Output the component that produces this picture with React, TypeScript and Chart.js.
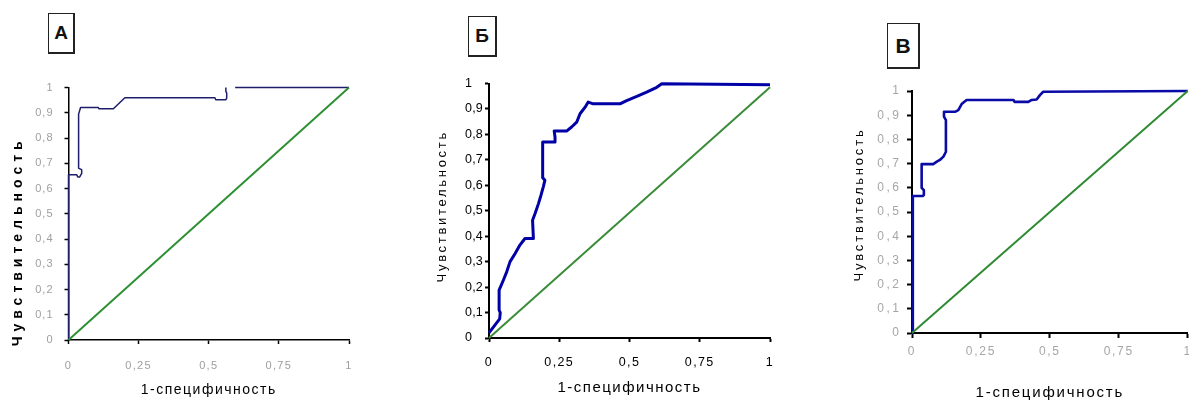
import React, { useEffect, useRef } from 'react';
import { Chart, registerables } from 'chart.js';

Chart.register(...registerables);

// ---------- data ----------
const xTickValues = [0, 0.25, 0.5, 0.75, 1];
const xTickLabels = ['0', '0,25', '0,5', '0,75', '1'];
const yTickValues = [0, 0.1, 0.2, 0.3, 0.4, 0.5, 0.6, 0.7, 0.8, 0.9, 1];
const yTickLabels = ['0', '0,1', '0,2', '0,3', '0,4', '0,5', '0,6', '0,7', '0,8', '0,9', '1'];

const xTitle = '1-специфичность';
const yTitle = 'Чувствительность';
const panelLabels = ['А', 'Б', 'В'];

// reference (chance) line
const diagFpr = [0, 1];
const diagTprA = [0, 1];
const diagTprB = [0, 0.985];
const diagTprC = [0, 1];

// ROC curve A
const rocA_fpr = [0, 0, 0.029, 0.033, 0.04, 0.047, 0.047, 0.037, 0.036, 0.043, 0.106, 0.109, 0.16, 0.201, 0.522, 0.525, 0.561, 0.564, 0.564, 0.561, 0.561, 0.58, 0.594, 1];
const rocA_tpr = [0, 0.655, 0.655, 0.646, 0.646, 0.66, 0.675, 0.68, 0.895, 0.921, 0.921, 0.916, 0.916, 0.96, 0.96, 0.952, 0.952, 0.958, 0.979, 0.985, 1.0, null, 1, 1];

// ROC curve Б
const rocB_fpr = [0, 0.038, 0.04, 0.036, 0.036, 0.051, 0.063, 0.075, 0.093, 0.11, 0.128, 0.158, 0.155, 0.164, 0.176, 0.185, 0.193, 0.199, 0.191, 0.191, 0.235, 0.235, 0.232, 0.276, 0.294, 0.312, 0.324, 0.342, 0.353, 0.371, 0.466, 0.49, 0.526, 0.561, 0.597, 0.615, 1];
const rocB_tpr = [0.02, 0.075, 0.1, 0.11, 0.188, 0.227, 0.26, 0.3, 0.332, 0.365, 0.391, 0.391, 0.463, 0.489, 0.528, 0.561, 0.593, 0.62, 0.63, 0.77, 0.77, 0.79, 0.813, 0.813, 0.829, 0.848, 0.881, 0.907, 0.927, 0.92, 0.92, 0.933, 0.949, 0.966, 0.985, 0.999, 0.995];

// ROC curve В
const rocC_fpr = [0, 0.003, 0.003, 0.039, 0.043, 0.043, 0.035, 0.035, 0.077, 0.09, 0.101, 0.114, 0.123, 0.123, 0.116, 0.116, 0.156, 0.168, 0.18, 0.198, 0.368, 0.372, 0.422, 0.434, 0.452, 0.464, 0.476, 1];
const rocC_tpr = [0, 0.01, 0.566, 0.566, 0.57, 0.59, 0.6, 0.698, 0.698, 0.708, 0.715, 0.729, 0.749, 0.88, 0.894, 0.914, 0.914, 0.921, 0.946, 0.963, 0.963, 0.955, 0.955, 0.963, 0.965, 0.983, 0.997, 1];

// ---------- layout / style ----------
const FAMILY = '"Liberation Sans", Arial, sans-serif';

type PanelCfg = {
  label: string;
  curveX: number[];
  curveY: (number | null)[];
  diagY: number[];
  canvas: { left: number; top: number; w: number; h: number };
  area: { left: number; top: number; right: number; bottom: number };
  padLeft: number;
  curveColor: string;
  curveWidth: number;
  diagColor: string;
  diagWidth: number;
  axisWidth: number;
  tickLen: number;
  tickSize: number;
  tickColor: string;
  xTickPad: number;
  yTickPad: number;
  yCross: 'near' | 'far';
  xTickLS: number;
  yTickLS: number;
  xTitleSize: number;
  xTitlePad: number;
  xTitleLS: number;
  yTitleFont: string;
  yTitleLS: number;
  yTitleDx: number;
  yTitleDy: number;
  box: { left: number; top: number; w: number; h: number; size: number };
};

const panels: PanelCfg[] = [
  {
    label: panelLabels[0], curveX: rocA_fpr, curveY: rocA_tpr, diagY: diagTprA,
    canvas: { left: 0, top: 70, w: 380, h: 333 },
    area: { left: 68.5, top: 13, right: 349, bottom: 270 },
    padLeft: 0,
    curveColor: '#1e1e6a', curveWidth: 1.5, diagColor: '#2f8f33', diagWidth: 2,
    axisWidth: 1.5, tickLen: 4, tickSize: 11, tickColor: '#9e9e9e',
    xTickPad: 15.4, yTickPad: 11, yCross: 'near', xTickLS: 1.3, yTickLS: 1,
    xTitleSize: 14, xTitlePad: 4.6, xTitleLS: 1.5,
    yTitleFont: 'bold 14px ' + FAMILY, yTitleLS: 5, yTitleDx: 50, yTitleDy: 27.5,
    box: { left: 48, top: 13, w: 27, h: 41, size: 19 },
  },
  {
    label: panelLabels[1], curveX: rocB_fpr, curveY: rocB_tpr, diagY: diagTprB,
    canvas: { left: 400, top: 70, w: 400, h: 333 },
    area: { left: 89, top: 13, right: 370, bottom: 268 },
    padLeft: 65,
    curveColor: '#0000a6', curveWidth: 3, diagColor: '#3a8c3a', diagWidth: 2,
    axisWidth: 2, tickLen: 4, tickSize: 12.5, tickColor: '#000000',
    xTickPad: 13.5, yTickPad: 6, yCross: 'far', xTickLS: 1.4, yTickLS: 0.2,
    xTitleSize: 15, xTitlePad: 6, xTitleLS: 1.5,
    yTitleFont: '13px ' + FAMILY, yTitleLS: 2.7, yTitleDx: 47, yTitleDy: -4.5,
    box: { left: 468, top: 16, w: 29, h: 41, size: 19 },
  },
  {
    label: panelLabels[2], curveX: rocC_fpr, curveY: rocC_tpr, diagY: diagTprC,
    canvas: { left: 800, top: 70, w: 420, h: 333 },
    area: { left: 112, top: 21, right: 387.7, bottom: 263 },
    padLeft: 0,
    curveColor: '#0a0aa6', curveWidth: 2.6, diagColor: '#2f8a33', diagWidth: 2,
    axisWidth: 2, tickLen: 5, tickSize: 12, tickColor: '#a6a6a6',
    xTickPad: 6.8, yTickPad: 5.5, yCross: 'near', xTickLS: 1.7, yTickLS: 2.5,
    xTitleSize: 15, xTitlePad: 1, xTitleLS: 1.8,
    yTitleFont: '13px ' + FAMILY, yTitleLS: 2.8, yTitleDx: 53, yTitleDy: -7.5,
    box: { left: 887, top: 23, w: 33, h: 46, size: 21 },
  },
];

function decoPlugin(p: PanelCfg) {
  return {
    id: 'deco',
    beforeDraw(chart: any) {
      const ctx = chart.ctx;
      ['x', 'y'].forEach((id) => {
        const s: any = chart.scales[id];
        if (!s || s.__ls) return;
        s.__ls = true;
        const tickLS = id === 'x' ? p.xTickLS : p.yTickLS;
        const origLabels = s.drawLabels;
        const origTitle = s.drawTitle;
        s.drawLabels = function (ca: any) {
          ctx.save();
          ctx.letterSpacing = tickLS + 'px';
          origLabels.call(this, ca);
          ctx.restore();
        };
        s.drawTitle = function () {
          ctx.save();
          ctx.letterSpacing = p.xTitleLS + 'px';
          origTitle.call(this);
          ctx.restore();
        };
      });
    },
    afterDraw(chart: any) {
      const ctx = chart.ctx;
      const ca = chart.chartArea;
      ctx.save();
      ctx.translate(ca.left - p.yTitleDx, (ca.top + ca.bottom) / 2 + p.yTitleDy);
      ctx.rotate(-Math.PI / 2);
      ctx.font = p.yTitleFont;
      ctx.letterSpacing = p.yTitleLS + 'px';
      ctx.fillStyle = '#000';
      ctx.textAlign = 'center';
      ctx.textBaseline = 'middle';
      ctx.fillText(yTitle, 0, 0);
      ctx.restore();
    },
  };
}

function RocPanel({ p }: { p: PanelCfg }) {
  const ref = useRef<HTMLCanvasElement | null>(null);
  useEffect(() => {
    if (!ref.current) return;
    const tickFont = { family: FAMILY, size: p.tickSize };
    const chart = new Chart(ref.current, {
      type: 'scatter',
      data: {
        datasets: [
          {
            data: diagFpr.map((x, i) => ({ x, y: p.diagY[i] })),
            borderColor: p.diagColor,
            borderWidth: p.diagWidth,
            showLine: true,
            pointRadius: 0,
            clip: false,
          } as any,
          {
            data: p.curveX.map((x, i) => ({ x, y: p.curveY[i] })),
            borderColor: p.curveColor,
            borderWidth: p.curveWidth,
            borderJoinStyle: 'round',
            showLine: true,
            spanGaps: false,
            pointRadius: 0,
            clip: false,
          } as any,
        ],
      },
      options: {
        responsive: false,
        animation: false,
        layout: { padding: { left: p.padLeft, top: p.area.top, right: p.canvas.w - p.area.right, bottom: 0 } },
        plugins: { legend: { display: false }, tooltip: { enabled: false } },
        scales: {
          x: {
            type: 'linear',
            position: 'bottom',
            min: 0,
            max: 1,
            afterBuildTicks: (s: any) => { s.ticks = xTickValues.map((v) => ({ value: v })); },
            afterFit: (s: any) => { s.height = p.canvas.h - p.area.bottom; },
            ticks: {
              callback: (_v: any, i: number) => xTickLabels[i],
              font: tickFont,
              color: p.tickColor,
              padding: p.xTickPad,
              maxRotation: 0,
              autoSkip: false,
            },
            grid: { drawOnChartArea: false, drawTicks: true, tickLength: p.tickLen, color: '#000', tickColor: '#000', tickWidth: p.axisWidth },
            border: { display: true, color: '#000', width: p.axisWidth },
            title: { display: true, text: xTitle, color: '#000', font: { family: FAMILY, size: p.xTitleSize }, padding: { top: 0, bottom: p.xTitlePad } },
          },
          y: {
            type: 'linear',
            position: 'left',
            min: 0,
            max: 1,
            afterBuildTicks: (s: any) => { s.ticks = yTickValues.map((v) => ({ value: v })); },
            afterFit: (s: any) => { s.width = p.area.left - p.padLeft; },
            ticks: {
              callback: (_v: any, i: number) => yTickLabels[i],
              font: tickFont,
              color: p.tickColor,
              padding: p.yTickPad,
              crossAlign: p.yCross,
              autoSkip: false,
            },
            grid: { drawOnChartArea: false, drawTicks: true, tickLength: p.tickLen, color: '#000', tickColor: '#000', tickWidth: p.axisWidth },
            border: { display: true, color: '#000', width: p.axisWidth },
            title: { display: false },
          },
        },
      } as any,
      plugins: [decoPlugin(p)],
    });
    return () => chart.destroy();
  }, [p]);

  return (
    <>
      <canvas
        ref={ref}
        width={p.canvas.w}
        height={p.canvas.h}
        style={{ position: 'absolute', left: p.canvas.left, top: p.canvas.top, width: p.canvas.w, height: p.canvas.h, display: 'block' }}
      />
      <div
        style={{
          position: 'absolute',
          left: p.box.left,
          top: p.box.top,
          width: p.box.w,
          height: p.box.h,
          boxSizing: 'border-box',
          border: '1px solid #222',
          borderRightWidth: 2,
          borderBottomWidth: 2,
          display: 'flex',
          alignItems: 'center',
          justifyContent: 'center',
          fontFamily: FAMILY,
          fontWeight: 'bold',
          fontSize: p.box.size,
          color: '#111',
          background: '#fff',
        }}
      >
        {p.label}
      </div>
    </>
  );
}

export default function App() {
  return (
    <div style={{ position: 'absolute', left: 0, top: 0, width: 1189, height: 403, overflow: 'hidden', background: '#fff' }}>
      {panels.map((p) => (
        <RocPanel key={p.label} p={p} />
      ))}
    </div>
  );
}
